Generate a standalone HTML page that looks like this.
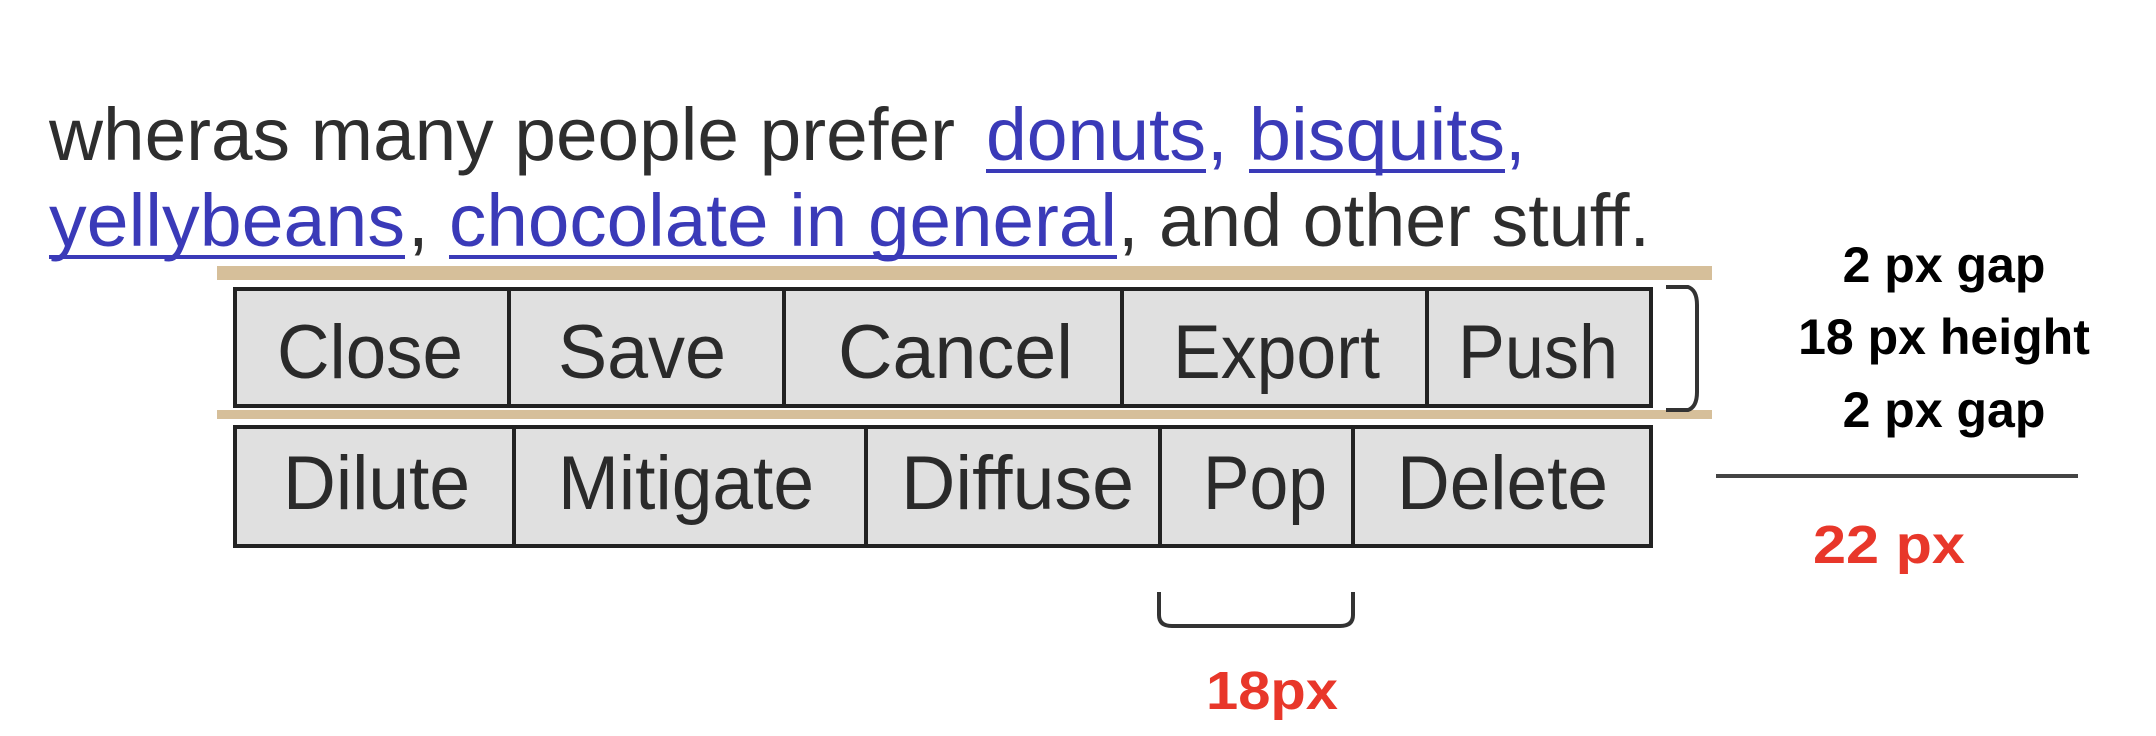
<!DOCTYPE html>
<html><head><meta charset="utf-8"><style>html,body{margin:0;padding:0;background:#fff}svg{display:block}</style></head>
<body>
<svg width="2156" height="736" viewBox="0 0 2156 736" xmlns="http://www.w3.org/2000/svg" font-family="Liberation Sans, Arial, sans-serif">
<rect width="2156" height="736" fill="#fff"/>
<!-- paragraph -->
<g font-size="74">
<text x="49" y="160" fill="#2e2e2e" textLength="906" lengthAdjust="spacingAndGlyphs">wheras many  people prefer</text>
<text x="986" y="160" fill="#3a3ab8" textLength="220" lengthAdjust="spacingAndGlyphs">donuts</text>
<text x="1207" y="160" fill="#3a3ab8">,</text>
<text x="1249" y="160" fill="#3a3ab8" textLength="256" lengthAdjust="spacingAndGlyphs">bisquits</text>
<text x="1505" y="160" fill="#3a3ab8">,</text>
<text x="49" y="246" fill="#3a3ab8" textLength="356" lengthAdjust="spacingAndGlyphs">yellybeans</text>
<text x="408" y="246" fill="#2e2e2e">,</text>
<text x="449" y="246" fill="#3a3ab8" textLength="668" lengthAdjust="spacingAndGlyphs">chocolate in general</text>
<text x="1118" y="246" fill="#2e2e2e" textLength="532" lengthAdjust="spacingAndGlyphs">, and other stuff.</text>
</g>
<g stroke="#3a3ab8" stroke-width="4">
<line x1="986" y1="171" x2="1206" y2="171"/><line x1="1249" y1="171" x2="1505" y2="171"/>
<line x1="49" y1="257" x2="405" y2="257"/><line x1="449" y1="257" x2="1117" y2="257"/>
</g>
<!-- tan bands -->
<rect x="217" y="266" width="1495" height="14" fill="#d6bf9a"/>
<rect x="217" y="410" width="1495" height="9" fill="#d6bf9a"/>
<!-- row 1 -->
<g fill="#e0e0e0" stroke="#222" stroke-width="4">
<rect x="235" y="289" width="1416" height="117"/>
<rect x="235" y="427" width="1416" height="119"/>
<line x1="509" y1="289" x2="509" y2="406"/><line x1="784" y1="289" x2="784" y2="406"/>
<line x1="1122" y1="289" x2="1122" y2="406"/><line x1="1427" y1="289" x2="1427" y2="406"/>
<line x1="514" y1="427" x2="514" y2="546"/><line x1="866" y1="427" x2="866" y2="546"/>
<line x1="1160" y1="427" x2="1160" y2="546"/><line x1="1353" y1="427" x2="1353" y2="546"/>
</g>
<g font-size="76" fill="#2a2a2a">
<text x="277" y="378" textLength="186" lengthAdjust="spacingAndGlyphs">Close</text>
<text x="558" y="378" textLength="168" lengthAdjust="spacingAndGlyphs">Save</text>
<text x="838" y="378" textLength="235" lengthAdjust="spacingAndGlyphs">Cancel</text>
<text x="1173" y="378" textLength="207" lengthAdjust="spacingAndGlyphs">Export</text>
<text x="1458" y="378" textLength="160" lengthAdjust="spacingAndGlyphs">Push</text>
<text x="283" y="509" textLength="187" lengthAdjust="spacingAndGlyphs">Dilute</text>
<text x="558" y="509" textLength="256" lengthAdjust="spacingAndGlyphs">Mitigate</text>
<text x="901" y="509" textLength="233" lengthAdjust="spacingAndGlyphs">Diffuse</text>
<text x="1203" y="509" textLength="124" lengthAdjust="spacingAndGlyphs">Pop</text>
<text x="1397" y="509" textLength="211" lengthAdjust="spacingAndGlyphs">Delete</text>
</g>
<!-- brackets -->
<path d="M1666 287 L1688 287 Q1697 290 1697 305 L1697 392 Q1697 407 1688 410 L1666 410" fill="none" stroke="#333" stroke-width="4"/>
<path d="M1159 592 L1159 615 Q1159 626 1172 626 L1340 626 Q1353 626 1353 615 L1353 592" fill="none" stroke="#333" stroke-width="4"/>
<line x1="1716" y1="476" x2="2078" y2="476" stroke="#444" stroke-width="4"/>
<!-- labels -->
<g font-weight="bold" font-size="50" text-anchor="middle" fill="#000">
<text x="1944" y="282">2 px gap</text>
<text x="1944" y="354">18 px height</text>
<text x="1944" y="427">2 px gap</text>
</g>
<g font-weight="bold" font-size="54" fill="#e8372a">
<text x="1813" y="563" textLength="152" lengthAdjust="spacingAndGlyphs">22 px</text>
<text x="1206" y="709" textLength="132" lengthAdjust="spacingAndGlyphs">18px</text>
</g>
</svg>
</body></html>
